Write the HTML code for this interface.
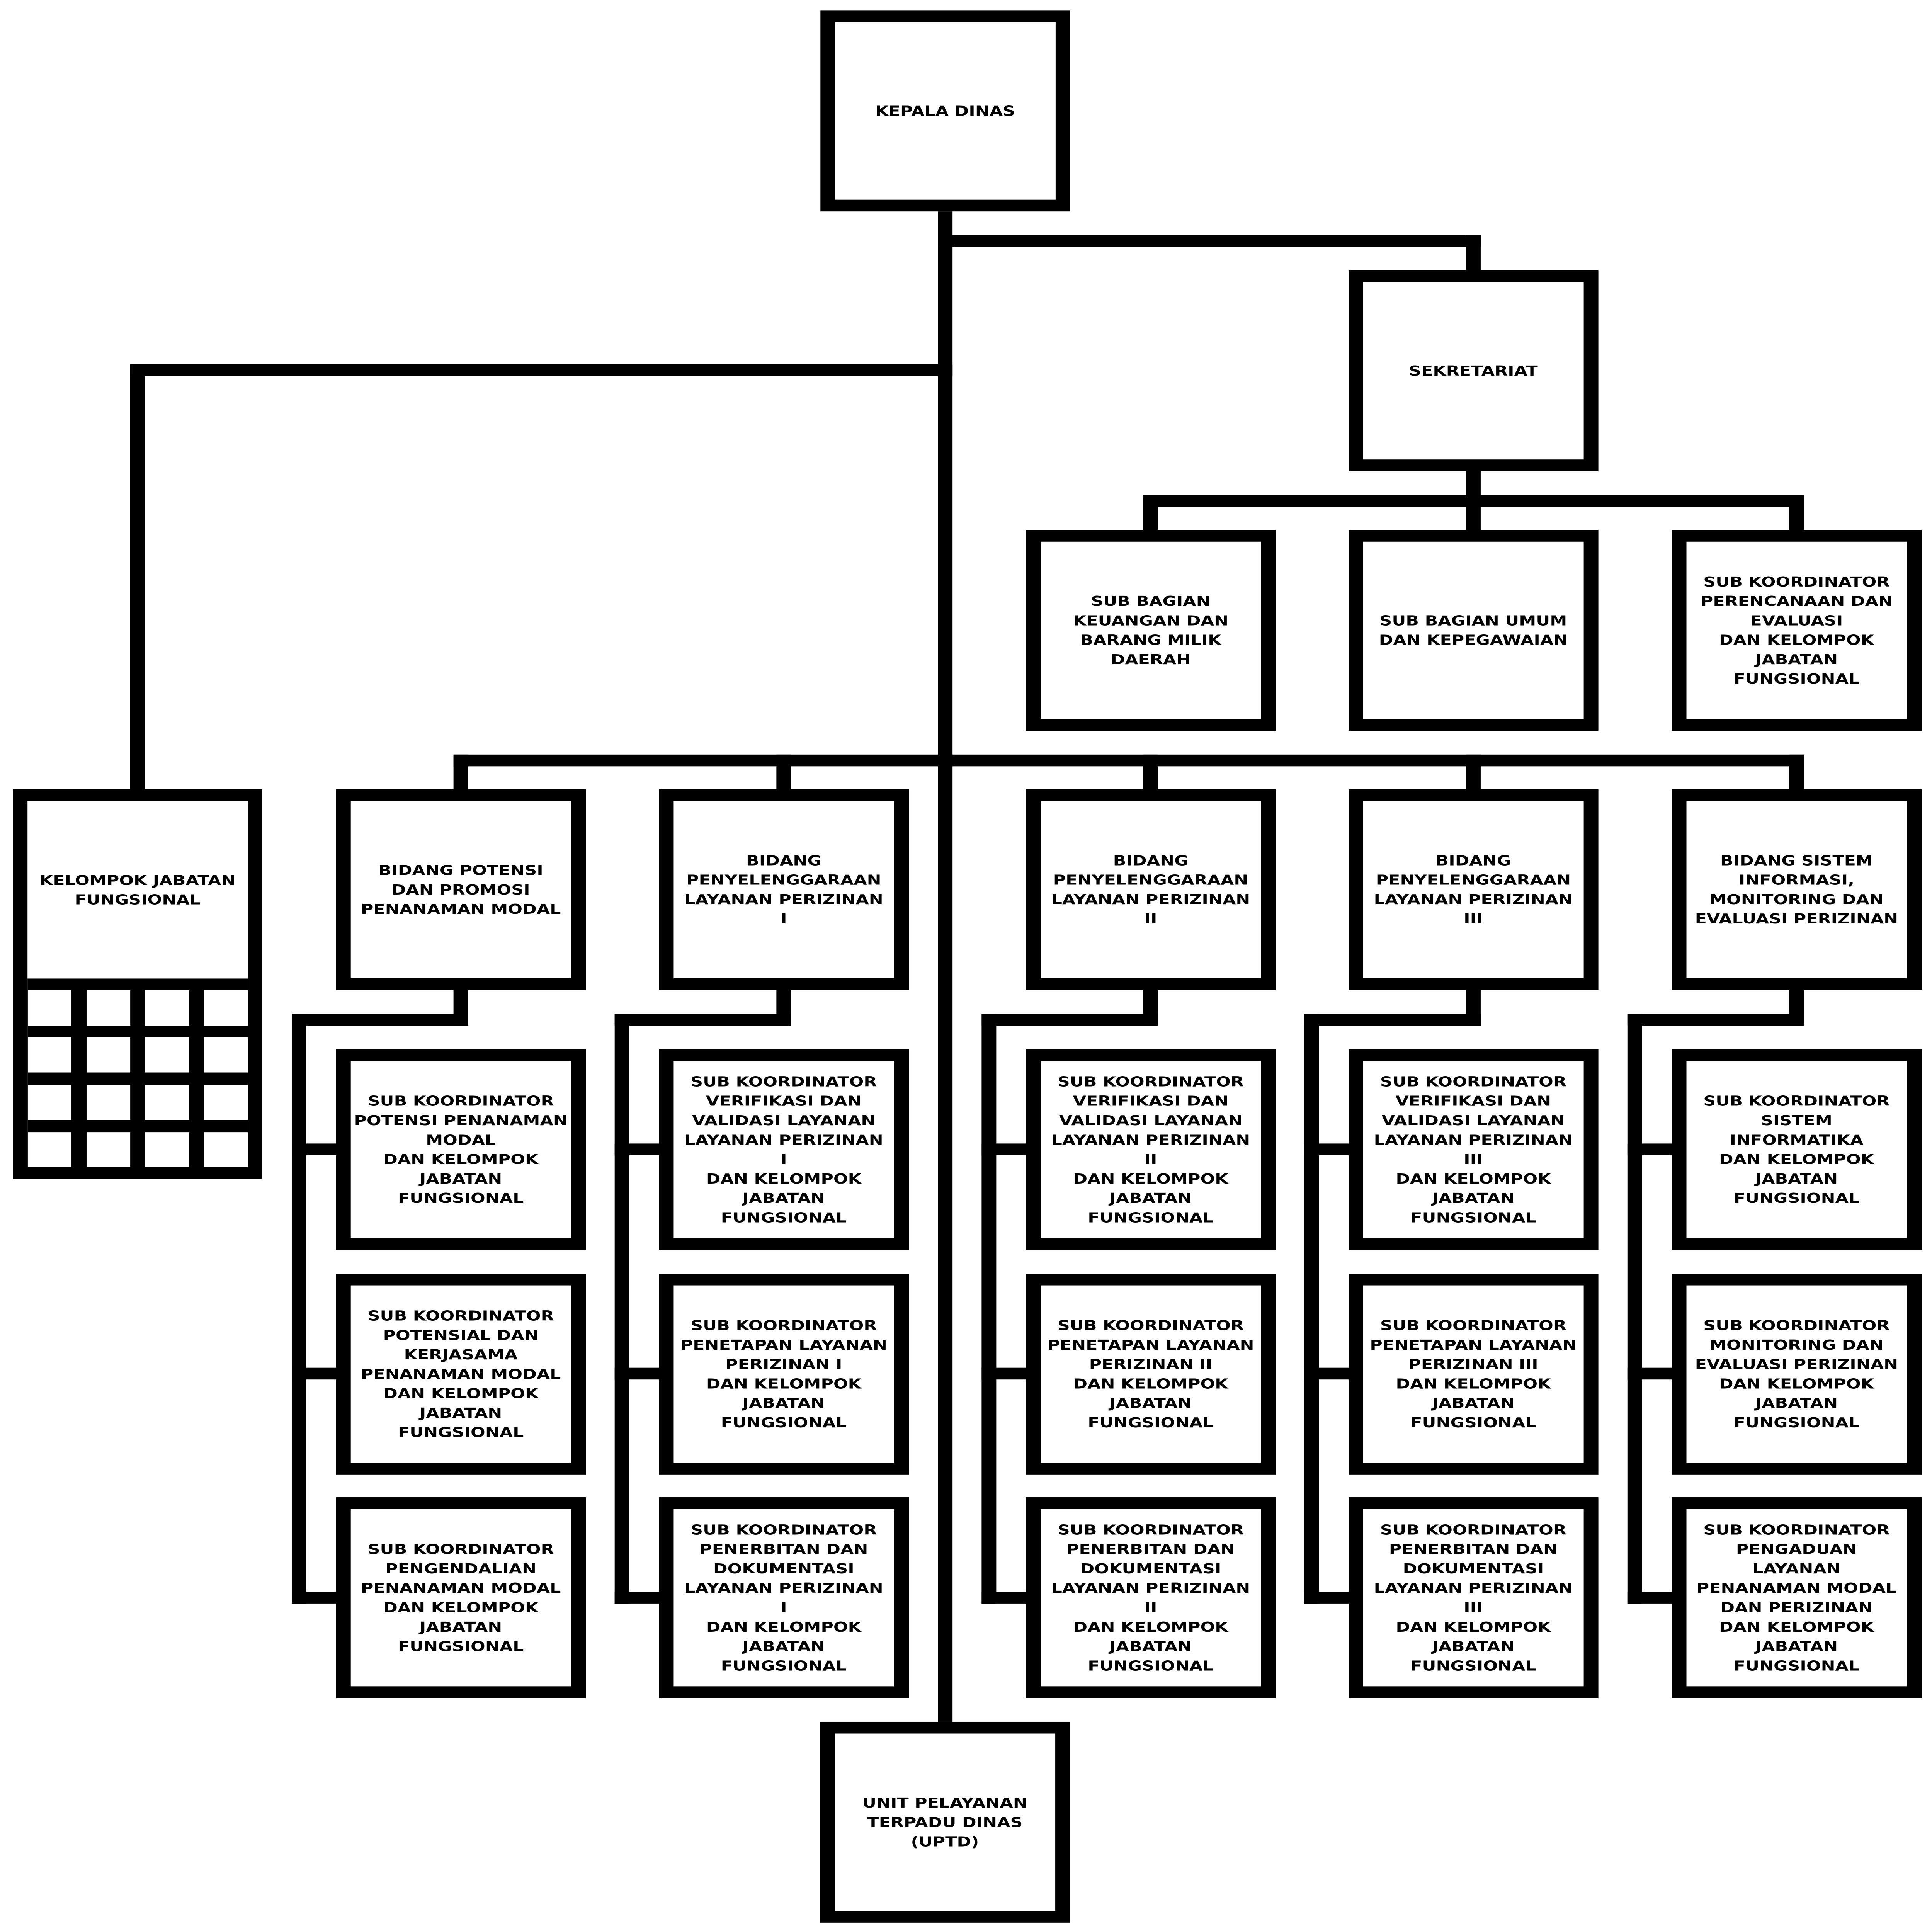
<!DOCTYPE html>
<html><head><meta charset="utf-8"><style>
html,body{margin:0;padding:0;background:#fff;width:100%;height:100%;overflow:hidden;}
svg{display:block;width:100vw;height:100vh;}
</style></head><body>
<svg viewBox="0 0 6318 7858" preserveAspectRatio="none" xmlns="http://www.w3.org/2000/svg">
<rect x="0" y="0" width="6318" height="7858" fill="#fff"/>
<g fill="#000">
<rect x="3067" y="860" width="48" height="6143"/>
<rect x="3067" y="956" width="1775" height="48"/>
<rect x="4794" y="956" width="48" height="150"/>
<rect x="425" y="1482" width="2690" height="48"/>
<rect x="425" y="1482" width="48" height="1735"/>
<rect x="4794" y="1910" width="48" height="250"/>
<rect x="3739" y="2014" width="2160" height="48"/>
<rect x="3738" y="2014" width="48" height="146"/>
<rect x="5851" y="2014" width="48" height="146"/>
<rect x="1483" y="3069" width="4416" height="48"/>
<rect x="1483" y="3069" width="48" height="146"/>
<rect x="2539" y="3069" width="48" height="146"/>
<rect x="3738" y="3069" width="48" height="146"/>
<rect x="4794" y="3069" width="48" height="146"/>
<rect x="5851" y="3069" width="48" height="146"/>

<rect x="1483" y="4020" width="48" height="151"/>
<rect x="954" y="4123" width="577" height="48"/>
<rect x="954" y="4123" width="48" height="2399"/>
<rect x="954" y="4651" width="150" height="48"/>
<rect x="954" y="5563" width="150" height="48"/>
<rect x="954" y="6474" width="150" height="48"/>

<rect x="2539" y="4020" width="48" height="151"/>
<rect x="2010" y="4123" width="577" height="48"/>
<rect x="2010" y="4123" width="48" height="2399"/>
<rect x="2010" y="4651" width="150" height="48"/>
<rect x="2010" y="5563" width="150" height="48"/>
<rect x="2010" y="6474" width="150" height="48"/>

<rect x="3738" y="4020" width="48" height="151"/>
<rect x="3210" y="4123" width="576" height="48"/>
<rect x="3210" y="4123" width="48" height="2399"/>
<rect x="3210" y="4651" width="150" height="48"/>
<rect x="3210" y="5563" width="150" height="48"/>
<rect x="3210" y="6474" width="150" height="48"/>

<rect x="4794" y="4020" width="48" height="151"/>
<rect x="4265" y="4123" width="577" height="48"/>
<rect x="4265" y="4123" width="48" height="2399"/>
<rect x="4265" y="4651" width="150" height="48"/>
<rect x="4265" y="5563" width="150" height="48"/>
<rect x="4265" y="6474" width="150" height="48"/>

<rect x="5851" y="4020" width="48" height="151"/>
<rect x="5322" y="4123" width="577" height="48"/>
<rect x="5322" y="4123" width="48" height="2399"/>
<rect x="5322" y="4651" width="150" height="48"/>
<rect x="5322" y="5563" width="150" height="48"/>
<rect x="5322" y="6474" width="150" height="48"/>
</g>

<g fill="#fff" stroke="#000" stroke-width="48">
<rect x="2707" y="67" width="769" height="769"/>
<rect x="4434" y="1124" width="769" height="769"/>
<rect x="3379" y="2179" width="769" height="769"/>
<rect x="4434" y="2179" width="769" height="769"/>
<rect x="5491" y="2179" width="769" height="769"/>
<rect x="66" y="3234" width="768" height="1537"/>
<rect x="1123" y="3234" width="769" height="769"/>
<rect x="2179" y="3234" width="769" height="769"/>
<rect x="3379" y="3234" width="769" height="769"/>
<rect x="4434" y="3234" width="769" height="769"/>
<rect x="5491" y="3234" width="769" height="769"/>
<rect x="1123" y="4291" width="769" height="769"/>
<rect x="2179" y="4291" width="769" height="769"/>
<rect x="3379" y="4291" width="769" height="769"/>
<rect x="4434" y="4291" width="769" height="769"/>
<rect x="5491" y="4291" width="769" height="769"/>
<rect x="1123" y="5204" width="769" height="769"/>
<rect x="2179" y="5204" width="769" height="769"/>
<rect x="3379" y="5204" width="769" height="769"/>
<rect x="4434" y="5204" width="769" height="769"/>
<rect x="5491" y="5204" width="769" height="769"/>
<rect x="1123" y="6114" width="769" height="769"/>
<rect x="2179" y="6114" width="769" height="769"/>
<rect x="3379" y="6114" width="769" height="769"/>
<rect x="4434" y="6114" width="769" height="769"/>
<rect x="5491" y="6114" width="769" height="769"/>
<rect x="2706" y="7027" width="769" height="769"/>
</g>

<rect x="90" y="3980" width="720" height="767" fill="#000"/>
<g fill="#fff">
<rect x="91" y="4028" width="142" height="143"/><rect x="283" y="4028" width="143" height="143"/><rect x="474" y="4028" width="145" height="143"/><rect x="667" y="4028" width="143" height="143"/>
<rect x="91" y="4219" width="142" height="143"/><rect x="283" y="4219" width="143" height="143"/><rect x="474" y="4219" width="145" height="143"/><rect x="667" y="4219" width="143" height="143"/>
<rect x="91" y="4412" width="142" height="143"/><rect x="283" y="4412" width="143" height="143"/><rect x="474" y="4412" width="145" height="143"/><rect x="667" y="4412" width="143" height="143"/>
<rect x="91" y="4605" width="142" height="142"/><rect x="283" y="4605" width="143" height="142"/><rect x="474" y="4605" width="145" height="142"/><rect x="667" y="4605" width="143" height="142"/>
</g>

<g font-family="DejaVu Sans, Liberation Sans, sans-serif" font-weight="bold" font-size="56" text-anchor="middle" fill="#000">
<text x="3091" y="471">KEPALA DINAS</text>
<text x="4818" y="1528">SEKRETARIAT</text>
<text y="2464.5"><tspan x="3763" dy="0">SUB BAGIAN</tspan><tspan x="3763" dy="79">KEUANGAN DAN</tspan><tspan x="3763" dy="79">BARANG MILIK</tspan><tspan x="3763" dy="79">DAERAH</tspan></text>
<text y="2543.5"><tspan x="4818" dy="0">SUB BAGIAN UMUM</tspan><tspan x="4818" dy="79">DAN KEPEGAWAIAN</tspan></text>
<text y="2385.5"><tspan x="5875" dy="0">SUB KOORDINATOR</tspan><tspan x="5875" dy="79">PERENCANAAN DAN</tspan><tspan x="5875" dy="79">EVALUASI</tspan><tspan x="5875" dy="79">DAN KELOMPOK</tspan><tspan x="5875" dy="79">JABATAN</tspan><tspan x="5875" dy="79">FUNGSIONAL</tspan></text>

<text y="3599.5"><tspan x="450" dy="0">KELOMPOK JABATAN</tspan><tspan x="450" dy="79">FUNGSIONAL</tspan></text>

<text y="3559"><tspan x="1507" dy="0">BIDANG POTENSI</tspan><tspan x="1507" dy="79">DAN PROMOSI</tspan><tspan x="1507" dy="79">PENANAMAN MODAL</tspan></text>
<text y="3519.5"><tspan x="2563" dy="0">BIDANG</tspan><tspan x="2563" dy="79">PENYELENGGARAAN</tspan><tspan x="2563" dy="79">LAYANAN PERIZINAN</tspan><tspan x="2563" dy="79">I</tspan></text>
<text y="3519.5"><tspan x="3763" dy="0">BIDANG</tspan><tspan x="3763" dy="79">PENYELENGGARAAN</tspan><tspan x="3763" dy="79">LAYANAN PERIZINAN</tspan><tspan x="3763" dy="79">II</tspan></text>
<text y="3519.5"><tspan x="4818" dy="0">BIDANG</tspan><tspan x="4818" dy="79">PENYELENGGARAAN</tspan><tspan x="4818" dy="79">LAYANAN PERIZINAN</tspan><tspan x="4818" dy="79">III</tspan></text>
<text y="3519.5"><tspan x="5875" dy="0">BIDANG SISTEM</tspan><tspan x="5875" dy="79">INFORMASI,</tspan><tspan x="5875" dy="79">MONITORING DAN</tspan><tspan x="5875" dy="79">EVALUASI PERIZINAN</tspan></text>

<text y="4497.5"><tspan x="1507" dy="0">SUB KOORDINATOR</tspan><tspan x="1507" dy="79">POTENSI PENANAMAN</tspan><tspan x="1507" dy="79">MODAL</tspan><tspan x="1507" dy="79">DAN KELOMPOK</tspan><tspan x="1507" dy="79">JABATAN</tspan><tspan x="1507" dy="79">FUNGSIONAL</tspan></text>
<text y="5371"><tspan x="1507" dy="0">SUB KOORDINATOR</tspan><tspan x="1507" dy="79">POTENSIAL DAN</tspan><tspan x="1507" dy="79">KERJASAMA</tspan><tspan x="1507" dy="79">PENANAMAN MODAL</tspan><tspan x="1507" dy="79">DAN KELOMPOK</tspan><tspan x="1507" dy="79">JABATAN</tspan><tspan x="1507" dy="79">FUNGSIONAL</tspan></text>
<text y="6320.5"><tspan x="1507" dy="0">SUB KOORDINATOR</tspan><tspan x="1507" dy="79">PENGENDALIAN</tspan><tspan x="1507" dy="79">PENANAMAN MODAL</tspan><tspan x="1507" dy="79">DAN KELOMPOK</tspan><tspan x="1507" dy="79">JABATAN</tspan><tspan x="1507" dy="79">FUNGSIONAL</tspan></text>

<text y="4418.5"><tspan x="2563" dy="0">SUB KOORDINATOR</tspan><tspan x="2563" dy="79">VERIFIKASI DAN</tspan><tspan x="2563" dy="79">VALIDASI LAYANAN</tspan><tspan x="2563" dy="79">LAYANAN PERIZINAN</tspan><tspan x="2563" dy="79">I</tspan><tspan x="2563" dy="79">DAN KELOMPOK</tspan><tspan x="2563" dy="79">JABATAN</tspan><tspan x="2563" dy="79">FUNGSIONAL</tspan></text>
<text y="5410.5"><tspan x="2563" dy="0">SUB KOORDINATOR</tspan><tspan x="2563" dy="79">PENETAPAN LAYANAN</tspan><tspan x="2563" dy="79">PERIZINAN I</tspan><tspan x="2563" dy="79">DAN KELOMPOK</tspan><tspan x="2563" dy="79">JABATAN</tspan><tspan x="2563" dy="79">FUNGSIONAL</tspan></text>
<text y="6241.5"><tspan x="2563" dy="0">SUB KOORDINATOR</tspan><tspan x="2563" dy="79">PENERBITAN DAN</tspan><tspan x="2563" dy="79">DOKUMENTASI</tspan><tspan x="2563" dy="79">LAYANAN PERIZINAN</tspan><tspan x="2563" dy="79">I</tspan><tspan x="2563" dy="79">DAN KELOMPOK</tspan><tspan x="2563" dy="79">JABATAN</tspan><tspan x="2563" dy="79">FUNGSIONAL</tspan></text>

<text y="4418.5"><tspan x="3763" dy="0">SUB KOORDINATOR</tspan><tspan x="3763" dy="79">VERIFIKASI DAN</tspan><tspan x="3763" dy="79">VALIDASI LAYANAN</tspan><tspan x="3763" dy="79">LAYANAN PERIZINAN</tspan><tspan x="3763" dy="79">II</tspan><tspan x="3763" dy="79">DAN KELOMPOK</tspan><tspan x="3763" dy="79">JABATAN</tspan><tspan x="3763" dy="79">FUNGSIONAL</tspan></text>
<text y="5410.5"><tspan x="3763" dy="0">SUB KOORDINATOR</tspan><tspan x="3763" dy="79">PENETAPAN LAYANAN</tspan><tspan x="3763" dy="79">PERIZINAN II</tspan><tspan x="3763" dy="79">DAN KELOMPOK</tspan><tspan x="3763" dy="79">JABATAN</tspan><tspan x="3763" dy="79">FUNGSIONAL</tspan></text>
<text y="6241.5"><tspan x="3763" dy="0">SUB KOORDINATOR</tspan><tspan x="3763" dy="79">PENERBITAN DAN</tspan><tspan x="3763" dy="79">DOKUMENTASI</tspan><tspan x="3763" dy="79">LAYANAN PERIZINAN</tspan><tspan x="3763" dy="79">II</tspan><tspan x="3763" dy="79">DAN KELOMPOK</tspan><tspan x="3763" dy="79">JABATAN</tspan><tspan x="3763" dy="79">FUNGSIONAL</tspan></text>

<text y="4418.5"><tspan x="4818" dy="0">SUB KOORDINATOR</tspan><tspan x="4818" dy="79">VERIFIKASI DAN</tspan><tspan x="4818" dy="79">VALIDASI LAYANAN</tspan><tspan x="4818" dy="79">LAYANAN PERIZINAN</tspan><tspan x="4818" dy="79">III</tspan><tspan x="4818" dy="79">DAN KELOMPOK</tspan><tspan x="4818" dy="79">JABATAN</tspan><tspan x="4818" dy="79">FUNGSIONAL</tspan></text>
<text y="5410.5"><tspan x="4818" dy="0">SUB KOORDINATOR</tspan><tspan x="4818" dy="79">PENETAPAN LAYANAN</tspan><tspan x="4818" dy="79">PERIZINAN III</tspan><tspan x="4818" dy="79">DAN KELOMPOK</tspan><tspan x="4818" dy="79">JABATAN</tspan><tspan x="4818" dy="79">FUNGSIONAL</tspan></text>
<text y="6241.5"><tspan x="4818" dy="0">SUB KOORDINATOR</tspan><tspan x="4818" dy="79">PENERBITAN DAN</tspan><tspan x="4818" dy="79">DOKUMENTASI</tspan><tspan x="4818" dy="79">LAYANAN PERIZINAN</tspan><tspan x="4818" dy="79">III</tspan><tspan x="4818" dy="79">DAN KELOMPOK</tspan><tspan x="4818" dy="79">JABATAN</tspan><tspan x="4818" dy="79">FUNGSIONAL</tspan></text>

<text y="4497.5"><tspan x="5875" dy="0">SUB KOORDINATOR</tspan><tspan x="5875" dy="79">SISTEM</tspan><tspan x="5875" dy="79">INFORMATIKA</tspan><tspan x="5875" dy="79">DAN KELOMPOK</tspan><tspan x="5875" dy="79">JABATAN</tspan><tspan x="5875" dy="79">FUNGSIONAL</tspan></text>
<text y="5410.5"><tspan x="5875" dy="0">SUB KOORDINATOR</tspan><tspan x="5875" dy="79">MONITORING DAN</tspan><tspan x="5875" dy="79">EVALUASI PERIZINAN</tspan><tspan x="5875" dy="79">DAN KELOMPOK</tspan><tspan x="5875" dy="79">JABATAN</tspan><tspan x="5875" dy="79">FUNGSIONAL</tspan></text>
<text y="6241.5"><tspan x="5875" dy="0">SUB KOORDINATOR</tspan><tspan x="5875" dy="79">PENGADUAN</tspan><tspan x="5875" dy="79">LAYANAN</tspan><tspan x="5875" dy="79">PENANAMAN MODAL</tspan><tspan x="5875" dy="79">DAN PERIZINAN</tspan><tspan x="5875" dy="79">DAN KELOMPOK</tspan><tspan x="5875" dy="79">JABATAN</tspan><tspan x="5875" dy="79">FUNGSIONAL</tspan></text>

<text y="7352"><tspan x="3090" dy="0">UNIT PELAYANAN</tspan><tspan x="3090" dy="79">TERPADU DINAS</tspan><tspan x="3090" dy="79">(UPTD)</tspan></text>
</g>
</svg>
</body></html>
